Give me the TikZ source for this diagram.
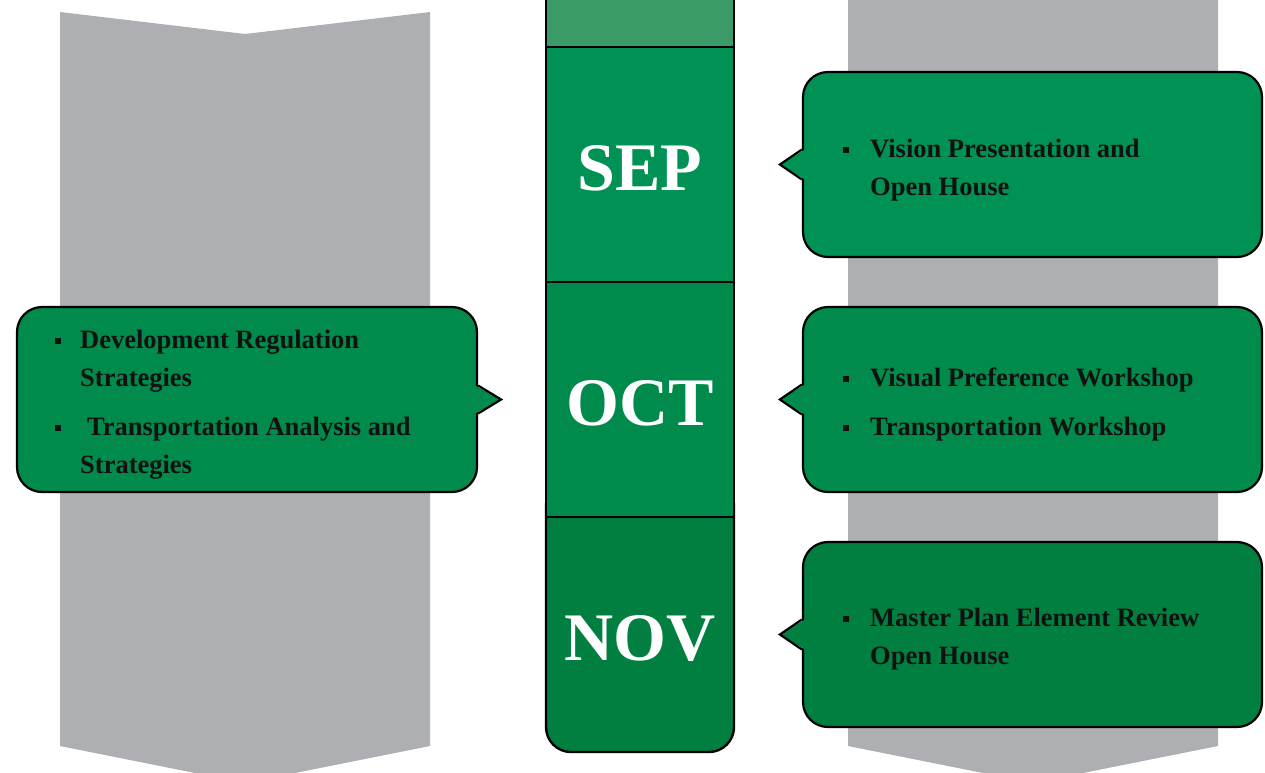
\documentclass[tikz,border=0pt]{standalone}
\usepackage{fontspec}
\setmainfont{Liberation Serif}
\definecolor{grayarrow}{HTML}{AEAFB2}
\definecolor{gtop}{HTML}{3A9A68}
\definecolor{gsep}{HTML}{009154}
\definecolor{goct}{HTML}{008A4C}
\definecolor{gnov}{HTML}{007F40}
\definecolor{txt}{HTML}{111111}
\tikzset{
  grayshape/.style={fill=grayarrow, draw=none},
  seg/.style={draw=black, line width=2.4pt, inner sep=0pt, minimum width=188pt},
  bubble/.style={draw=black, line width=2.2pt, rounded corners=25pt, inner sep=0pt, minimum width=459pt, minimum height=185pt},
  month/.style={text=white, font=\bfseries\fontsize{68}{70}\selectfont, anchor=base, inner sep=0pt},
  btext/.style={text=txt, font=\bfseries\fontsize{26.5}{38}\selectfont, anchor=base west, inner sep=0pt, align=left},
  ptr/.style={draw=black, line width=2.2pt, line join=miter}
}
\newcommand{\sqb}{\raisebox{4pt}{\rule{6pt}{6pt}}}
\begin{document}
\begin{tikzpicture}[x=1pt,y=-1pt]
\useasboundingbox (0,0) rectangle (1265,772);
% gray arrows
\fill[grayshape] (60,12) -- (245,34) -- (430,12) -- (430,746) -- (245,783) -- (60,746) -- cycle;
\fill[grayshape] (848,-20) -- (1218,-20) -- (1218,746) -- (1033,783) -- (848,746) -- cycle;
% center column
\node[seg, fill=gnov, rounded corners=25pt, minimum height=272pt] (nov) at (640,616) {};
\node[seg, fill=goct, minimum height=235pt] (oct) at (640,399.5) {};
\node[seg, fill=gsep, minimum height=235pt] (sep) at (640,164.5) {};
\node[seg, fill=gtop, minimum height=67pt] (top) at (640,13.5) {};
\node[month] (lsep) at (640,190) {SEP};
\node[month] (loct) at (640,425) {OCT};
\node[month] (lnov) at (640,660) {NOV};
% right bubbles
\node[bubble, fill=gsep] (b1) at (1032.5,164.5) {};
\node[bubble, fill=goct] (b2) at (1032.5,399.5) {};
\node[bubble, fill=gnov] (b3) at (1032.5,634.5) {};
% left bubble
\node[bubble, fill=goct, minimum width=460pt] (b4) at (247,399.5) {};
% pointers
\foreach \n/\c in {b1/gsep,b2/goct,b3/gnov}{
  \coordinate (\n t) at ([xshift=-22pt]\n.west);
  \coordinate (\n u) at ([yshift=-15pt]\n.west);
  \coordinate (\n d) at ([yshift=15pt]\n.west);
  \fill[\c] ([xshift=3pt]\n u) -- (\n t) -- ([xshift=3pt]\n d) -- cycle;
  \draw[ptr] (\n u) -- (\n t) -- (\n d);
}
\coordinate (b4t) at ([xshift=23pt]b4.east);
\coordinate (b4u) at ([yshift=-14pt]b4.east);
\coordinate (b4d) at ([yshift=14pt]b4.east);
\fill[goct] ([xshift=-3pt]b4u) -- (b4t) -- ([xshift=-3pt]b4d) -- cycle;
\draw[ptr] (b4u) -- (b4t) -- (b4d);
% texts (anchor base = baseline of last line)
\node[btext] (t1) at (843,195) {\makebox[27pt][l]{\sqb}Vision Presentation and\\\hspace*{27pt}Open House};
\node[btext] (t2) at (843,435) {\makebox[27pt][l]{\sqb}Visual Preference Workshop\\[11pt]\makebox[27pt][l]{\sqb}Transportation Workshop};
\node[btext] (t3) at (843,664) {\makebox[27pt][l]{\sqb}Master Plan Element Review\\\hspace*{27pt}Open House};
\node[btext] (t4) at (55,473) {\makebox[25pt][l]{\sqb}Development Regulation\\\hspace*{25pt}Strategies\\[11pt]\makebox[32pt][l]{\sqb}Transportation Analysis and\\\hspace*{25pt}Strategies};
\end{tikzpicture}
\end{document}
